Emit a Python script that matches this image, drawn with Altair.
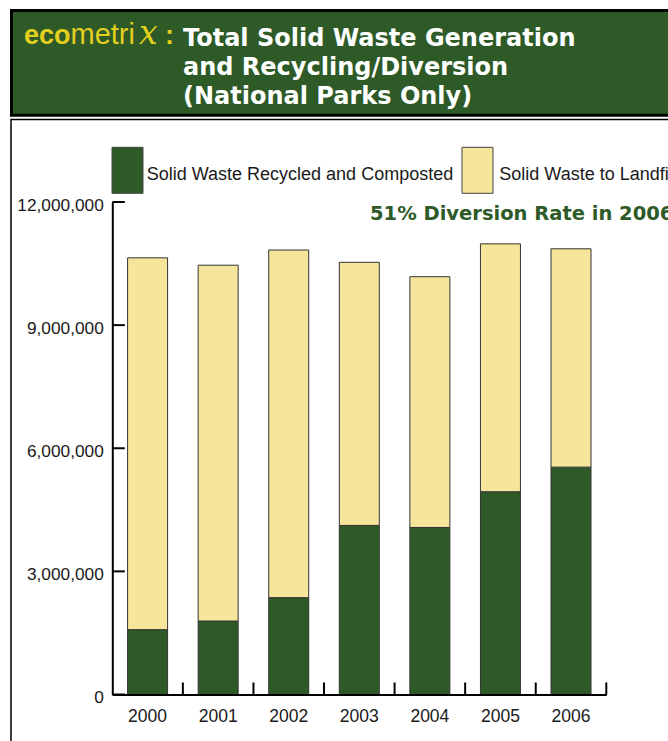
import altair as alt
import pandas as pd

# ---------------- data ----------------
years = ["2000", "2001", "2002", "2003", "2004", "2005", "2006"]
recycled = [1580000, 1790000, 2360000, 4120000, 4070000, 4940000, 5540000]
landfill = [9060000, 8670000, 8470000, 6410000, 6110000, 6040000, 5320000]
categories = ["Solid Waste Recycled and Composted", "Solid Waste to Landfill"]
colors = ["#2D5A27", "#F5E69B"]
y_ticks = [0, 3000000, 6000000, 9000000, 12000000]
title_lines = ["Total Solid Waste Generation", "and Recycling/Diversion", "(National Parks Only)"]
logo_parts = ["eco", "metri", "x", ":"]
annotation = "51% Diversion Rate in 2006"

rows = []
for i, yr in enumerate(years):
    rows.append({"year": yr, "cat": categories[0], "value": recycled[i], "order": 0})
    rows.append({"year": yr, "cat": categories[1], "value": landfill[i], "order": 1})
df = pd.DataFrame(rows)

# ---------------- layout ----------------
L, T = 112.3, 202.0          # plot origin in page pixels
W, H = 494.0, 492.5          # plot area
GREEN = "#2D5A27"
LOGO = "#E3CF1E"
FONT = "Liberation Sans"

x_scale = alt.Scale(type="band", domain=years, paddingInner=0, paddingOuter=0)
y_scale = alt.Scale(domain=[0, 12000000], nice=False, zero=True)
color_scale = alt.Scale(domain=categories, range=colors)

x_axis = alt.Axis(title=None, labelAngle=0, ticks=False, tickSize=0, labelPadding=13,
                  labelFont=FONT, labelFontSize=17.5, labelColor="#1a1a1a",
                  domainColor="black", domainWidth=2, grid=False, zindex=1)
y_axis = alt.Axis(title=None, values=y_ticks, format=",d", ticks=False, tickSize=0,
                  labelPadding=9, labelOffset=3, labelFont=FONT, labelFontSize=17.3,
                  labelColor="#1a1a1a", domainColor="black", domainWidth=2,
                  grid=False, zindex=1)

one = pd.DataFrame({"a": [0]})

# panel with border
panel = alt.Chart(one).mark_rect(fill="white", stroke="black", strokeWidth=1.5).encode(
    x=alt.value(11 - L), x2=alt.value(900), y=alt.value(119.5 - T), y2=alt.value(900)
)
# header band
header = alt.Chart(one).mark_rect(fill=GREEN, stroke="black", strokeWidth=3).encode(
    x=alt.value(11.5 - L), x2=alt.value(900), y=alt.value(10.5 - T), y2=alt.value(115.2 - T)
)

logo_df = pd.DataFrame({"t": logo_parts})
logo_specs = [
    (0, 24.0, dict(font=FONT, fontSize=27, fontWeight="bold")),
    (1, 70.5, dict(font=FONT, fontSize=29, fontWeight="normal")),
    (2, 139.0, dict(font="DejaVu Serif", fontSize=33, fontStyle="italic")),
    (3, 165.0, dict(font=FONT, fontSize=27, fontWeight="bold")),
]
logo_layers = []
for idx, px, kw in logo_specs:
    logo_layers.append(
        alt.Chart(logo_df.iloc[[idx]]).mark_text(
            align="left", baseline="alphabetic", color=LOGO, **kw
        ).encode(x=alt.value(px - L), y=alt.value(44.0 - T), text="t:N")
    )

title_df = pd.DataFrame({"t": ["\n".join(title_lines)]})
title = alt.Chart(title_df).mark_text(
    align="left", baseline="alphabetic", lineBreak="\n", lineHeight=29,
    font="DejaVu Sans", fontSize=24, fontWeight="bold", color="white"
).encode(x=alt.value(183.0 - L), y=alt.value(45.5 - T), text="t:N")

# bars
bars = alt.Chart(df).mark_bar(width=40, stroke="#333333", strokeWidth=1).encode(
    x=alt.X("year:O", scale=x_scale, sort=years, axis=x_axis),
    y=alt.Y("value:Q", stack="zero", scale=y_scale, axis=y_axis),
    color=alt.Color("cat:N", scale=color_scale, legend=None),
    order=alt.Order("order:Q"),
)

# inward ticks
ytick = alt.Chart(pd.DataFrame({"value": y_ticks})).mark_rule(color="black", strokeWidth=2).encode(
    y=alt.Y("value:Q", scale=y_scale, axis=y_axis), x=alt.value(0), x2=alt.value(12.5)
)
xtick = alt.Chart(pd.DataFrame({"year": years})).mark_rule(color="black", strokeWidth=2).encode(
    x=alt.X("year:O", scale=x_scale, sort=years, bandPosition=1, axis=x_axis),
    y=alt.value(H - 12), y2=alt.value(H)
)

# manual legend
leg_df = pd.DataFrame({"cat": categories})
leg_pos = [(112.0, 146.7), (462.0, 499.3)]
legend_layers = []
for i, (sx, tx) in enumerate(leg_pos):
    sub = leg_df.iloc[[i]]
    legend_layers.append(
        alt.Chart(sub).mark_rect(stroke="#444444", strokeWidth=1).encode(
            x=alt.value(sx - L), x2=alt.value(sx + 31 - L),
            y=alt.value(147.3 - T), y2=alt.value(193.3 - T),
            color=alt.Color("cat:N", scale=color_scale, legend=None),
        )
    )
    legend_layers.append(
        alt.Chart(sub).mark_text(align="left", baseline="alphabetic", font=FONT,
                                 fontSize=18, color="#1a1a1a").encode(
            x=alt.value(tx - L), y=alt.value(180.0 - T), text="cat:N"
        )
    )

ann = alt.Chart(pd.DataFrame({"t": [annotation]})).mark_text(
    align="left", baseline="alphabetic", font="DejaVu Sans", fontSize=19.5,
    fontWeight="bold", color=GREEN
).encode(x=alt.value(370.0 - L), y=alt.value(220.0 - T), text="t:N")

chart = alt.layer(
    panel, header, *logo_layers, title, bars, ytick, xtick, *legend_layers, ann
).properties(
    width=W, height=H,
    autosize=alt.AutoSizeParams(type="none"),
    padding={"left": L, "top": T, "right": 668 - L - W, "bottom": 741 - T - H},
    background="white",
).configure_view(stroke=None)

chart.save("out.html", embed_options={"renderer": "svg", "actions": False})
